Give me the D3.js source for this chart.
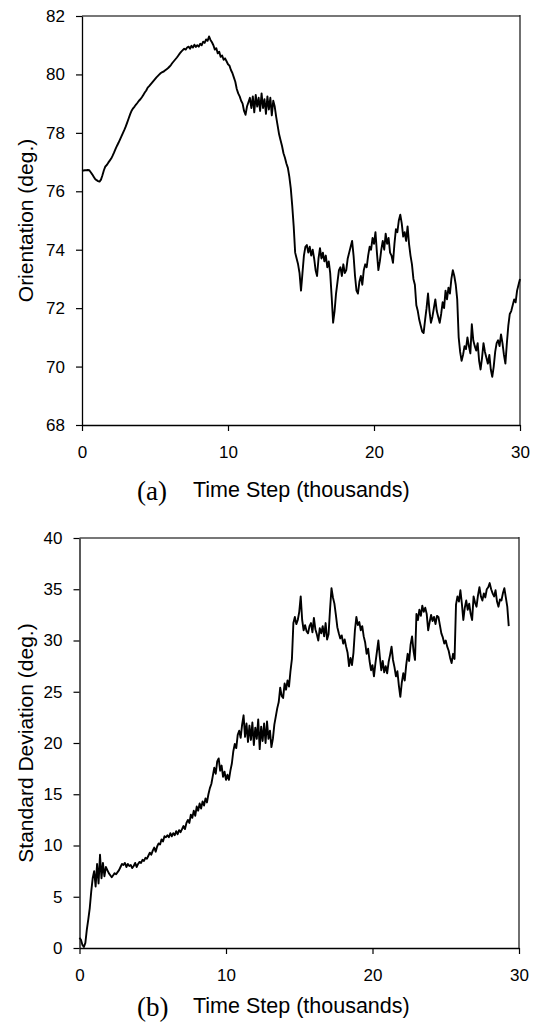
<!DOCTYPE html>
<html>
<head>
<meta charset="utf-8">
<script src="https://cdn.jsdelivr.net/npm/d3@7"></script>
<style>
    body { margin: 0; background: #fff; }
    text { font-family: Arial, "Liberation Sans", sans-serif; fill: #000; }
</style>
</head>
<body>
<div id="chart"></div>
<script>
// tick labels
const xTicks = [0, 10, 20, 30];
const orientationTicks = [68, 70, 72, 74, 76, 78, 80, 82];
const stdDevTicks = [0, 5, 10, 15, 20, 25, 30, 35, 40];

// samples every 0.1 thousand time steps
const stepSize = 0.1;

// (a) orientation (deg.), t = 0 .. 30
const orientation = [
    76.70, 76.71, 76.72, 76.72, 76.73, 76.72, 76.65, 76.58, 76.50, 76.42,
    76.38, 76.35, 76.33, 76.40, 76.55, 76.72, 76.85, 76.90, 76.98, 77.05,
    77.12, 77.22, 77.33, 77.45, 77.56, 77.66, 77.77, 77.88, 77.99, 78.10,
    78.22, 78.36, 78.50, 78.64, 78.76, 78.84, 78.90, 78.97, 79.03, 79.10,
    79.15, 79.22, 79.30, 79.38, 79.45, 79.55, 79.60, 79.66, 79.72, 79.78,
    79.84, 79.90, 79.95, 80.00, 80.05, 80.08, 80.10, 80.14, 80.18, 80.22,
    80.27, 80.33, 80.40, 80.46, 80.52, 80.58, 80.65, 80.72, 80.78, 80.83,
    80.88, 80.85, 80.92, 80.95, 80.88, 80.98, 80.92, 81.02, 80.94, 81.00,
    80.95, 81.05, 81.00, 81.12, 81.08, 81.20, 81.15, 81.30, 81.18, 81.10,
    81.00, 80.85, 80.90, 80.72, 80.78, 80.60, 80.65, 80.50, 80.55, 80.45,
    80.35, 80.30, 80.15, 80.05, 79.90, 79.75, 79.50, 79.35, 79.25, 79.10,
    79.00, 78.75, 78.62, 78.90, 79.05, 79.20, 78.85, 79.25, 78.70, 79.30,
    78.90, 79.20, 78.75, 79.35, 78.85, 79.15, 78.65, 79.25, 78.80, 79.20,
    78.60, 79.10, 78.90, 78.55, 78.25, 77.95, 77.75, 77.55, 77.30, 77.15,
    76.95, 76.80, 76.50, 76.10, 75.50, 74.80, 73.90, 73.70, 73.50, 73.20,
    72.60, 73.20, 73.80, 74.10, 74.16, 73.90, 74.10, 73.80, 74.00, 73.70,
    73.30, 73.10, 73.70, 74.05, 73.70, 73.90, 73.60, 73.80, 73.40, 73.60,
    73.20, 72.40, 71.50, 71.90, 72.50, 72.90, 73.30, 73.40, 73.10, 73.50,
    73.20, 73.30, 73.70, 73.90, 74.10, 74.30, 73.80, 73.10, 72.60, 72.50,
    72.90, 73.10, 72.80, 73.30, 73.50, 73.40, 73.80, 74.10, 74.00, 74.40,
    74.20, 74.60, 73.90, 73.30, 73.60, 74.00, 74.30, 74.00, 74.55, 74.20,
    74.40, 73.90, 73.80, 73.55, 74.20, 74.70, 74.60, 75.00, 75.20, 74.90,
    74.45, 74.60, 74.30, 74.80, 74.20, 73.80, 73.50, 73.00, 72.80, 72.10,
    71.90, 71.60, 71.40, 71.20, 71.15, 71.60, 72.00, 72.50, 71.90, 71.50,
    71.70, 72.00, 72.30, 71.90, 71.70, 71.50, 71.80, 72.20, 72.00, 72.60,
    72.30, 72.70, 72.50, 73.00, 73.30, 73.10, 72.80, 72.30, 71.00, 70.50,
    70.20, 70.40, 70.70, 70.60, 71.00, 70.70, 70.45, 71.45, 70.90, 70.70,
    70.55, 70.80, 70.20, 69.90, 70.30, 70.80, 70.50, 70.30, 70.10, 70.40,
    69.90, 69.65, 70.00, 70.50, 70.80, 70.90, 70.70, 71.10, 70.80, 70.40,
    70.10, 70.80, 71.40, 71.80, 71.90, 72.10, 72.30, 72.20, 72.60, 72.80,
    73.00
];

// (b) standard deviation (deg.), t = 0 .. 29.3
const stdDev = [
    1.0, 0.8, 0.3, 0.1, 0.5, 1.8, 2.8, 3.9, 5.5, 6.8,
    7.5, 6.0, 8.2, 6.3, 9.1, 6.8, 8.3, 7.0, 7.9, 7.6,
    7.3, 7.1, 6.9, 7.1, 7.3, 7.2, 7.4, 7.6, 7.9, 8.2,
    8.1, 8.3, 7.9, 8.2, 8.0, 8.1, 7.8, 8.0, 8.3, 7.9,
    8.2, 8.4, 8.3, 8.6, 8.5, 8.8, 8.7, 9.0, 9.3, 9.1,
    9.5, 9.8, 9.4, 9.9, 10.2, 10.1, 10.6, 10.4, 10.9, 10.8,
    11.0, 10.8, 11.2, 10.9, 11.2, 11.0, 11.4, 11.1, 11.5, 11.3,
    11.6, 11.9, 11.6, 12.2, 12.5, 12.2, 13.0, 12.7, 13.4, 12.9,
    13.8, 13.4, 14.1, 13.6, 14.3, 13.9, 14.6, 14.2, 15.0, 15.6,
    16.0, 16.8, 17.6, 17.0, 18.2, 18.5, 17.3, 17.8, 16.7, 17.2,
    16.4, 16.9, 16.4, 17.3, 18.0, 19.2, 19.9, 19.5, 20.8, 21.2,
    20.5, 21.8, 22.7, 20.6, 21.9, 20.1, 21.7, 20.3, 22.0, 19.8,
    21.5, 20.4, 22.3, 19.4, 21.6, 20.2, 21.9, 20.0, 22.1, 20.4,
    21.2, 19.6, 20.4, 21.8, 22.6, 23.4, 24.0, 25.4, 24.6, 24.4,
    25.8, 25.2, 26.1, 25.5, 27.0, 28.2, 31.7, 32.3, 31.6, 32.0,
    32.8, 34.3, 32.0, 31.0, 31.5, 30.9, 30.7, 31.4, 31.7, 30.8,
    32.2, 31.1, 30.6, 30.0, 31.2, 30.7, 31.4, 30.4, 31.7, 30.1,
    30.6, 33.0, 35.1, 34.2, 33.6, 32.5, 31.3, 30.7, 30.2, 30.5,
    29.7, 30.1, 29.4, 28.8, 27.5, 28.3, 27.6, 28.8, 31.0, 32.3,
    31.5, 31.8, 31.0, 31.4, 30.4, 29.8, 28.7, 29.2, 28.0, 27.1,
    27.6, 26.5, 27.8, 28.9, 30.0, 28.4, 27.1, 28.0, 26.9, 27.5,
    26.8, 27.9, 28.6, 29.4, 28.1, 27.4, 26.5, 27.0, 25.6, 24.5,
    25.9, 26.8, 26.1, 27.6, 28.7, 28.0, 29.6, 30.4, 29.0, 28.1,
    32.6, 32.0, 33.0, 32.4, 33.4, 32.8, 33.2, 32.6, 31.0, 31.8,
    32.5, 31.9, 32.3, 31.6, 32.4, 32.3, 31.5, 30.7, 30.3, 29.7,
    30.0, 29.4, 29.0, 28.3, 27.8, 28.7, 28.2, 33.5, 34.3, 33.8,
    34.9, 33.6, 32.0, 33.2, 33.9, 33.0, 33.6, 32.6, 32.0, 34.3,
    33.7, 33.3, 34.4, 35.2, 34.3, 33.9, 34.6, 34.2, 35.0, 35.2,
    35.6, 35.0, 34.6, 34.3, 34.9, 33.8, 33.3, 34.0, 33.9, 34.6,
    35.1, 34.2, 33.3, 31.4
];

const width = 533;
const height = 1026;

const svg = d3.select('#chart')
    .append('svg')
    .attr('width', width)
    .attr('height', height);

const drawPanel = (p) => {
    const x = d3.scaleLinear().domain([0, 30]).range([p.left, p.right]);
    const y = d3.scaleLinear().domain(d3.extent(p.yTicks)).range([p.bottom, p.top]);

    const g = svg.append('g');

    // frame: top edge grey, right edge dark
    g.append('line')
        .attr('x1', p.left).attr('x2', p.right)
        .attr('y1', p.top).attr('y2', p.top)
        .attr('stroke', '#777').attr('stroke-width', 2);
    g.append('line')
        .attr('x1', p.right).attr('x2', p.right)
        .attr('y1', p.top - 1).attr('y2', p.bottom)
        .attr('stroke', '#222').attr('stroke-width', 1.3);

    const yAxis = g.append('g')
        .attr('transform', `translate(${p.left},0)`)
        .call(d3.axisLeft(y).tickValues(p.yTicks).tickSize(6).tickPadding(11).tickSizeOuter(0));

    const xAxis = g.append('g')
        .attr('transform', `translate(0,${p.bottom})`)
        .call(d3.axisBottom(x).tickValues(xTicks).tickSize(6).tickPadding(15).tickSizeOuter(0));

    [yAxis, xAxis].forEach(a => {
        a.selectAll('text').style('font-size', '17px').attr('fill', '#000');
        a.selectAll('line').attr('stroke', '#000').attr('stroke-width', 1.2);
        a.select('.domain').attr('stroke', '#000').attr('stroke-width', 1.3);
    });

    const line = d3.line()
        .x((d, i) => x(i * stepSize))
        .y(d => y(d));

    g.append('path')
        .datum(p.values)
        .attr('d', line)
        .attr('fill', 'none')
        .attr('stroke', '#000')
        .attr('stroke-width', 1.9)
        .attr('stroke-linejoin', 'round');

    // y axis title
    g.append('text')
        .attr('transform', `translate(33,${(p.top + p.bottom) / 2}) rotate(-90)`)
        .attr('text-anchor', 'middle')
        .style('font-size', '21px')
        .text(p.yLabel);

    // panel tag and x axis title
    g.append('text')
        .attr('x', 137).attr('y', p.titleY + 3)
        .style('font-family', '"Liberation Serif", "Times New Roman", serif')
        .style('font-size', '27px')
        .text(p.tag);

    g.append('text')
        .attr('x', 193).attr('y', p.titleY)
        .style('font-size', '21.5px')
        .text('Time Step (thousands)');
};

drawPanel({
    left: 82, right: 520, top: 16, bottom: 425,
    yTicks: orientationTicks,
    values: orientation,
    yLabel: 'Orientation (deg.)',
    tag: '(a)',
    titleY: 497
});

drawPanel({
    left: 79.5, right: 519, top: 538, bottom: 948,
    yTicks: stdDevTicks,
    values: stdDev,
    yLabel: 'Standard Deviation (deg.)',
    tag: '(b)',
    titleY: 1013
});
</script>
</body>
</html>
